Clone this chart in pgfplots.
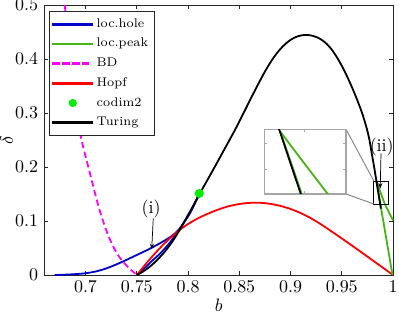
\documentclass[border=0pt]{standalone}
\usepackage{pgfplots}
\pgfplotsset{compat=1.18}
\usepackage{pgfplotstable}
\usetikzlibrary{arrows.meta}

\definecolor{cblue}{RGB}{0,0,205}
\definecolor{cgreen}{RGB}{70,180,20}
\definecolor{cdot}{RGB}{0,240,0}
\definecolor{cred}{RGB}{255,0,0}
\definecolor{cmag}{RGB}{255,0,255}
\definecolor{caxis}{RGB}{38,38,38}
\definecolor{lblue}{RGB}{1,1,204}
\definecolor{lgreen}{RGB}{71,181,21}
\definecolor{ldot}{RGB}{1,239,1}
\definecolor{lred}{RGB}{254,1,1}
\definecolor{lmag}{RGB}{254,1,254}
\definecolor{lblack}{RGB}{1,1,1}

\pgfplotstableread{
b d
0.670 0.0000
0.680 0.0006
0.690 0.0016
0.700 0.0032
0.710 0.0065
0.720 0.0120
0.730 0.0195
0.740 0.0280
0.750 0.0370
0.760 0.0460
0.770 0.0560
0.780 0.0670
0.786 0.0750
0.7922 0.0865
0.797 0.1000
0.802 0.1150
0.806 0.1300
0.809 0.1420
0.811 0.1500
}\holeA

\pgfplotstableread{
b d
0.7502 0.0000
0.755 0.0080
0.7597 0.0165
0.766 0.0280
0.773 0.0400
0.7827 0.0610
0.7922 0.0865
0.797 0.1000
0.802 0.1150
0.806 0.1300
0.809 0.1420
0.811 0.1500
}\holeB

\pgfplotstableread{
b d
0.9840 0.1725
0.98765 0.1315
0.9995 0.000
}\peakA

\pgfplotstableread{
b d
0.9840 0.1725
0.9880 0.1520
0.99205 0.1315
0.9961 0.1160
1.000 0.1010
}\peakB

\pgfplotstableread{
b d
0.6798 0.500
0.6832 0.429
0.687 0.362
0.690 0.318
0.694 0.270
0.698 0.235
0.7027 0.2006
0.7068 0.1700
0.7109 0.1395
0.715 0.1125
0.719 0.0894
0.724 0.0650
0.7288 0.0463
0.7335 0.0320
0.7385 0.0205
0.7435 0.0110
0.7483 0.0030
0.7500 0.0000
}\bd

\pgfplotstableread{
b d
0.7502 0.0000
0.755 0.0115
0.760 0.0230
0.765 0.0340
0.770 0.0445
0.775 0.0545
0.780 0.0638
0.785 0.0725
0.790 0.0805
0.795 0.0878
0.800 0.0943
0.810 0.1052
0.820 0.1140
0.830 0.1215
0.840 0.1275
0.850 0.1314
0.858 0.1333
0.866 0.1339
0.873 0.1334
0.880 0.1318
0.890 0.1280
0.900 0.1223
0.910 0.1146
0.920 0.1050
0.930 0.0935
0.940 0.0808
0.950 0.0677
0.960 0.0545
0.970 0.0410
0.980 0.0273
0.990 0.0137
1.000 0.0000
}\hopf

\pgfplotstableread{
b d
0.7502 0.0000
0.755 0.0050
0.760 0.0115
0.765 0.0190
0.770 0.0280
0.775 0.0380
0.780 0.0495
0.785 0.0625
0.790 0.0775
0.795 0.0940
0.800 0.1110
0.805 0.1280
0.811 0.1490
0.820 0.1795
0.828 0.2068
0.836 0.2345
0.845 0.2657
0.850 0.2840
0.855 0.3028
0.860 0.3218
0.865 0.3407
0.870 0.3590
0.875 0.3765
0.880 0.3925
0.885 0.4065
0.890 0.4183
0.895 0.4279
0.900 0.4353
0.905 0.4405
0.910 0.4435
0.915 0.4445
0.920 0.4436
0.925 0.4408
0.930 0.4360
0.935 0.4285
0.940 0.4180
0.945 0.4040
0.950 0.3875
0.955 0.3685
0.960 0.3475
0.965 0.3245
0.970 0.2990
0.9743 0.2720
0.9770 0.2500
0.9792 0.2260
0.9815 0.2010
0.98381 0.1740
0.98748 0.1315
0.9882 0.1230
}\turing

\begin{document}
\begin{tikzpicture}
\begin{axis}[
  name=main,
  scale only axis, width=194pt, height=150.3pt,
  xmin=0.66, xmax=1, ymin=0, ymax=0.5,
  xtick={0.7,0.75,0.8,0.85,0.9,0.95,1},
  ytick={0,0.1,0.2,0.3,0.4,0.5},
  tick align=inside, major tick length=2.2pt,
  axis line style={caxis, line width=0.5pt},
  tick style={caxis, line width=0.5pt},
  clip=false,
  xlabel={$b$}, ylabel={$\delta$},
  xlabel style={at={(axis description cs:0.5,-0.111)}, anchor=center},
  ylabel style={at={(axis description cs:-0.109,0.5)}, anchor=center},
  legend cell align=left,
  legend style={at={(axis description cs:0.0138,0.978)}, anchor=north west,
    font=\fontsize{7}{8.5}\selectfont, draw=caxis, fill=white, line width=0.5pt,
    inner xsep=1.5pt, inner ysep=2pt, row sep=0.6pt},
]
\addlegendimage{legend image code/.code={\fill[lblue] (0pt,-0.45pt) rectangle (22.1pt,0.45pt);}}
\addlegendimage{legend image code/.code={\fill[lgreen] (0pt,-0.45pt) rectangle (22.1pt,0.45pt);}}
\addlegendimage{legend image code/.code={\fill[lmag] (0pt,-0.45pt) rectangle (3.5pt,0.45pt) (5.5pt,-0.45pt) rectangle (9pt,0.45pt) (11pt,-0.45pt) rectangle (14.5pt,0.45pt) (16.5pt,-0.45pt) rectangle (20pt,0.45pt);}}
\addlegendimage{legend image code/.code={\fill[lred] (0pt,-0.45pt) rectangle (22.1pt,0.45pt);}}
\addlegendimage{legend image code/.code={\fill[ldot] (11.05pt,0pt) circle[radius=2pt];}}
\addlegendimage{legend image code/.code={\fill[lblack] (0pt,-0.45pt) rectangle (22.1pt,0.45pt);}}
\legend{loc.hole, loc.peak, BD, Hopf, codim2, Turing}

\addplot[forget plot, smooth, draw=cmag, line width=1pt, dash pattern=on 3.5pt off 2pt] table {\bd};
\addplot[forget plot, smooth, draw=cblue, line width=1pt] table {\holeA};
\addplot[forget plot, smooth, draw=cblue, line width=1pt] table {\holeB};
\addplot[forget plot, smooth, draw=cred, line width=1pt] table {\hopf};
\addplot[forget plot, draw=cgreen, line width=1pt] table {\peakA};
\addplot[forget plot, smooth, draw=cgreen, line width=1pt] table {\peakB};
\addplot[forget plot, smooth, draw=black, line width=1pt] table {\turing};
\addplot[forget plot, only marks, mark=*, mark size=2.3pt, draw=cdot, fill=cdot] coordinates {(0.811,0.151)};

% annotations
\node[font=\normalsize, inner sep=0pt] at (axis cs:0.7639,0.1222) {(i)};
\draw[line width=0.4pt, -{Stealth[length=3pt,width=2.2pt]}] (axis cs:0.7661,0.105) -- (axis cs:0.7646,0.0476);
\node[font=\normalsize, inner sep=0pt] at (axis cs:0.9890,0.2376) {(ii)};
\draw[line width=0.4pt, -{Stealth[length=3pt,width=2.2pt]}] (axis cs:0.9883,0.2254) -- (axis cs:0.9875,0.160);
\draw[line width=0.5pt, black] (axis cs:0.9813,0.1315) rectangle (axis cs:0.99515,0.174);
\draw[line width=0.5pt, gray] (axis cs:0.95415,0.2698) -- (axis cs:0.9813,0.174);
\draw[line width=0.5pt, gray] (axis cs:0.95415,0.15) -- (axis cs:0.9813,0.1315);

\coordinate (insSW) at (axis cs:0.87444,0.15);
\coordinate (BL) at (axis description cs:-0.1277,-0.137);
\coordinate (TR) at (axis description cs:1.0172,1.0185);
\end{axis}

\begin{axis}[
  at={(insSW)}, anchor=south west,
  scale only axis, width=45.5pt, height=36pt,
  xmin=0.9813, xmax=0.99515, ymin=0.1315, ymax=0.174,
  xtick={0.988}, ytick={0.148,0.165},
  xticklabels={}, yticklabels={},
  tick align=inside, major tick length=1.5pt,
  axis line style={gray!70, line width=0.8pt},
  tick style={gray!70, line width=0.4pt},
  axis background/.style={fill=white},
]
\addplot[draw=cgreen, line width=1pt] table {\peakA};
\addplot[draw=cgreen, line width=1pt] table {\peakB};
\addplot[draw=black, line width=1pt] table {\turing};
\end{axis}

\pgfresetboundingbox
\path (BL) rectangle (TR);
\end{tikzpicture}
\end{document}
